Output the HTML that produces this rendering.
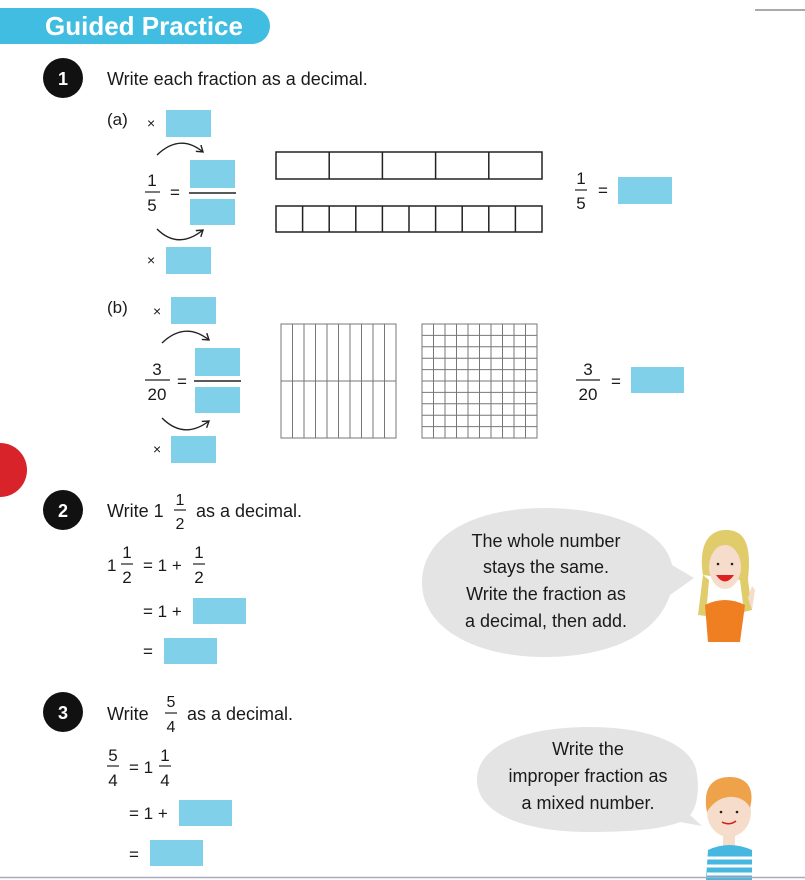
<!DOCTYPE html>
<html><head><meta charset="utf-8"><style>
html,body{margin:0;padding:0;background:#fff;width:805px;height:880px;overflow:hidden}
svg{display:block}
text{font-family:"Liberation Sans",sans-serif;fill:#1a1a1a}
</style></head><body>
<svg width="805" height="880" viewBox="0 0 805 880" xmlns="http://www.w3.org/2000/svg">
<defs>
<marker id="ah" markerWidth="10" markerHeight="10" refX="7" refY="5" orient="auto" markerUnits="userSpaceOnUse">
<path d="M1,1 L7,5 L1,9" fill="none" stroke="#222" stroke-width="1.4"/></marker>
</defs>
<path d="M0,8 H252 A18,18 0 0 1 252,44 H0 Z" fill="#41bde2"/>
<text x="45" y="35" font-size="26" font-weight="bold" style="fill:#fff">Guided Practice</text>
<line x1="755" y1="10" x2="805" y2="10" stroke="#555" stroke-width="1"/>

<circle cx="63" cy="78" r="20" fill="#111"/>
<text x="63" y="85" font-size="18" font-weight="bold" text-anchor="middle" style="fill:#fff">1</text>
<text x="107" y="85" font-size="18">Write each fraction as a decimal.</text>

<g font-size="17">
<text x="107" y="125">(a)</text>
<text x="147" y="128" font-size="14">×</text>
<rect x="166" y="110" width="45" height="27" fill="#7fd0e8"/>
<path d="M157,155 Q180,133 203,152" fill="none" stroke="#222" stroke-width="1.4" marker-end="url(#ah)"/>
<text x="152" y="186" text-anchor="middle">1</text>
<line x1="145" y1="192" x2="160" y2="192" stroke="#222" stroke-width="1.2"/>
<text x="152" y="211" text-anchor="middle">5</text>
<text x="175" y="198" text-anchor="middle">=</text>
<rect x="190" y="160" width="45" height="28" fill="#7fd0e8"/>
<line x1="189" y1="193" x2="236" y2="193" stroke="#222" stroke-width="1.5"/>
<rect x="190" y="199" width="45" height="26" fill="#7fd0e8"/>
<path d="M157,229 Q178,250 203,230" fill="none" stroke="#222" stroke-width="1.4" marker-end="url(#ah)"/>
<text x="147" y="265" font-size="14">×</text>
<rect x="166" y="247" width="45" height="27" fill="#7fd0e8"/>
</g>
<g fill="none" stroke="#222" stroke-width="1.5">
<rect x="276" y="152" width="266" height="27"/>
<line x1="329.2" y1="152" x2="329.2" y2="179"/><line x1="382.4" y1="152" x2="382.4" y2="179"/><line x1="435.6" y1="152" x2="435.6" y2="179"/><line x1="488.8" y1="152" x2="488.8" y2="179"/>
<rect x="276" y="206" width="266" height="26"/>
<path d="M302.6,206V232M329.2,206V232M355.8,206V232M382.4,206V232M409,206V232M435.6,206V232M462.2,206V232M488.8,206V232M515.4,206V232"/>
</g>
<g font-size="17">
<text x="581" y="184" text-anchor="middle">1</text>
<line x1="575" y1="190" x2="587" y2="190" stroke="#222" stroke-width="1.2"/>
<text x="581" y="209" text-anchor="middle">5</text>
<text x="603" y="196" text-anchor="middle">=</text>
<rect x="618" y="177" width="54" height="27" fill="#7fd0e8"/>
</g>

<g font-size="17">
<text x="107" y="313">(b)</text>
<text x="153" y="316" font-size="14">×</text>
<rect x="171" y="297" width="45" height="27" fill="#7fd0e8"/>
<path d="M162,343 Q185,321 209,340" fill="none" stroke="#222" stroke-width="1.4" marker-end="url(#ah)"/>
<text x="157" y="375" text-anchor="middle">3</text>
<line x1="145" y1="380" x2="170" y2="380" stroke="#222" stroke-width="1.2"/>
<text x="157" y="400" text-anchor="middle">20</text>
<text x="182" y="387" text-anchor="middle">=</text>
<rect x="195" y="348" width="45" height="28" fill="#7fd0e8"/>
<line x1="194" y1="381" x2="241" y2="381" stroke="#222" stroke-width="1.5"/>
<rect x="195" y="387" width="45" height="26" fill="#7fd0e8"/>
<path d="M162,418 Q184,440 209,421" fill="none" stroke="#222" stroke-width="1.4" marker-end="url(#ah)"/>
<text x="153" y="454" font-size="14">×</text>
<rect x="171" y="436" width="45" height="27" fill="#7fd0e8"/>
</g>
<g fill="none" stroke="#777" stroke-width="1">
<rect x="281" y="324" width="115" height="114"/>
<path d="M292.5,324V438M304,324V438M315.5,324V438M327,324V438M338.5,324V438M350,324V438M361.5,324V438M373,324V438M384.5,324V438M281,381H396"/>
<rect x="422" y="324" width="115" height="114"/>
<path d="M433.5,324V438M445,324V438M456.5,324V438M468,324V438M479.5,324V438M491,324V438M502.5,324V438M514,324V438M525.5,324V438"/>
<path d="M422,335.4H537M422,346.8H537M422,358.2H537M422,369.6H537M422,381H537M422,392.4H537M422,403.8H537M422,415.2H537M422,426.6H537"/>
</g>
<g font-size="17">
<text x="588" y="375" text-anchor="middle">3</text>
<line x1="576" y1="380" x2="600" y2="380" stroke="#222" stroke-width="1.2"/>
<text x="588" y="400" text-anchor="middle">20</text>
<text x="616" y="387" text-anchor="middle">=</text>
<rect x="631" y="367" width="53" height="26" fill="#7fd0e8"/>
</g>

<circle cx="0" cy="470" r="27" fill="#d8232a"/>

<circle cx="63" cy="510" r="20" fill="#111"/>
<text x="63" y="517" font-size="18" font-weight="bold" text-anchor="middle" style="fill:#fff">2</text>
<g font-size="18">
<text x="107" y="517">Write 1</text>
<text x="180" y="505" text-anchor="middle" font-size="16">1</text>
<line x1="174" y1="510" x2="186" y2="510" stroke="#222" stroke-width="1.2"/>
<text x="180" y="529" text-anchor="middle" font-size="16">2</text>
<text x="196" y="517">as a decimal.</text>
</g>
<g font-size="17">
<text x="107" y="571">1</text>
<text x="127" y="558" text-anchor="middle">1</text>
<line x1="121" y1="564" x2="133" y2="564" stroke="#222" stroke-width="1.2"/>
<text x="127" y="583" text-anchor="middle">2</text>
<text x="143" y="571">= 1 +</text>
<text x="199" y="558" text-anchor="middle">1</text>
<line x1="193" y1="564" x2="205" y2="564" stroke="#222" stroke-width="1.2"/>
<text x="199" y="583" text-anchor="middle">2</text>
<text x="143" y="617">= 1 +</text>
<rect x="193" y="598" width="53" height="26" fill="#7fd0e8"/>
<text x="143" y="657">=</text>
<rect x="164" y="638" width="53" height="26" fill="#7fd0e8"/>
</g>

<path d="M545,508 C610,508 665,530 672,565 L694,578 L670,595 C655,640 600,657 545,657 C470,657 422,625 422,583 C422,538 470,508 545,508 Z" fill="#e4e4e4"/>
<g font-size="18" text-anchor="middle">
<text x="546" y="547">The whole number</text>
<text x="546" y="573">stays the same.</text>
<text x="546" y="600">Write the fraction as</text>
<text x="546" y="627">a decimal, then add.</text>
</g>
<path d="M703,575 C698,540 712,530 726,530 C745,530 752,545 748,580 L752,610 L744,612 L740,580 Z" fill="#e0cc6a"/>
<path d="M703,575 L698,615 L706,616 L709,580 Z" fill="#e0cc6a"/>
<ellipse cx="725" cy="567" rx="16" ry="22" fill="#f6dccb"/>
<path d="M710,548 C715,535 740,535 742,550 C735,540 715,540 710,548 Z" fill="#e0cc6a"/>
<circle cx="718" cy="564" r="1.3" fill="#222"/><circle cx="732" cy="564" r="1.3" fill="#222"/>
<path d="M716,575 Q725,588 734,575 Z" fill="#e02020"/>
<path d="M705,605 Q725,595 745,605 L740,642 L708,642 Z" fill="#f07f22"/>
<path d="M748,598 L752,586 L755,590 L752,610 Z" fill="#f6dccb"/>

<circle cx="63" cy="712" r="20" fill="#111"/>
<text x="63" y="719" font-size="18" font-weight="bold" text-anchor="middle" style="fill:#fff">3</text>
<g font-size="18">
<text x="107" y="720">Write</text>
<text x="171" y="707" text-anchor="middle" font-size="16">5</text>
<line x1="165" y1="713" x2="177" y2="713" stroke="#222" stroke-width="1.2"/>
<text x="171" y="732" text-anchor="middle" font-size="16">4</text>
<text x="187" y="720">as a decimal.</text>
</g>
<g font-size="17">
<text x="113" y="761" text-anchor="middle">5</text>
<line x1="107" y1="766" x2="119" y2="766" stroke="#222" stroke-width="1.2"/>
<text x="113" y="786" text-anchor="middle">4</text>
<text x="129" y="773">= 1</text>
<text x="165" y="761" text-anchor="middle">1</text>
<line x1="159" y1="766" x2="171" y2="766" stroke="#222" stroke-width="1.2"/>
<text x="165" y="786" text-anchor="middle">4</text>
<text x="129" y="819">= 1 +</text>
<rect x="179" y="800" width="53" height="26" fill="#7fd0e8"/>
<text x="129" y="860">=</text>
<rect x="150" y="840" width="53" height="26" fill="#7fd0e8"/>
</g>

<path d="M590,727 C650,727 695,745 697,775 C700,795 695,810 690,815 L702,826 L680,822 C660,830 625,832 590,832 C520,832 477,812 477,780 C477,745 525,727 590,727 Z" fill="#e4e4e4"/>
<g font-size="18" text-anchor="middle">
<text x="588" y="755">Write the</text>
<text x="588" y="782">improper fraction as</text>
<text x="588" y="809">a mixed number.</text>
</g>
<ellipse cx="729" cy="812" rx="22" ry="25" fill="#f6dccb"/>
<path d="M707,812 C702,785 715,777 730,777 C748,777 755,790 750,808 C745,795 720,790 707,812 Z" fill="#eea34a"/>
<circle cx="721" cy="812" r="1.3" fill="#222"/><circle cx="737" cy="812" r="1.3" fill="#222"/>
<path d="M722,822 Q729,826 736,821" fill="none" stroke="#d02020" stroke-width="1.5"/>
<rect x="723" y="835" width="12" height="12" fill="#f6dccb"/>
<path d="M708,850 Q729,840 752,850 L752,880 L706,880 Z" fill="#45b7e0"/>
<path d="M707,858H752M707,866H752M707,874H752" stroke="#fff" stroke-width="3"/>

<line x1="0" y1="877.5" x2="805" y2="877.5" stroke="#aab" stroke-width="1.5"/>
</svg>
</body></html>
